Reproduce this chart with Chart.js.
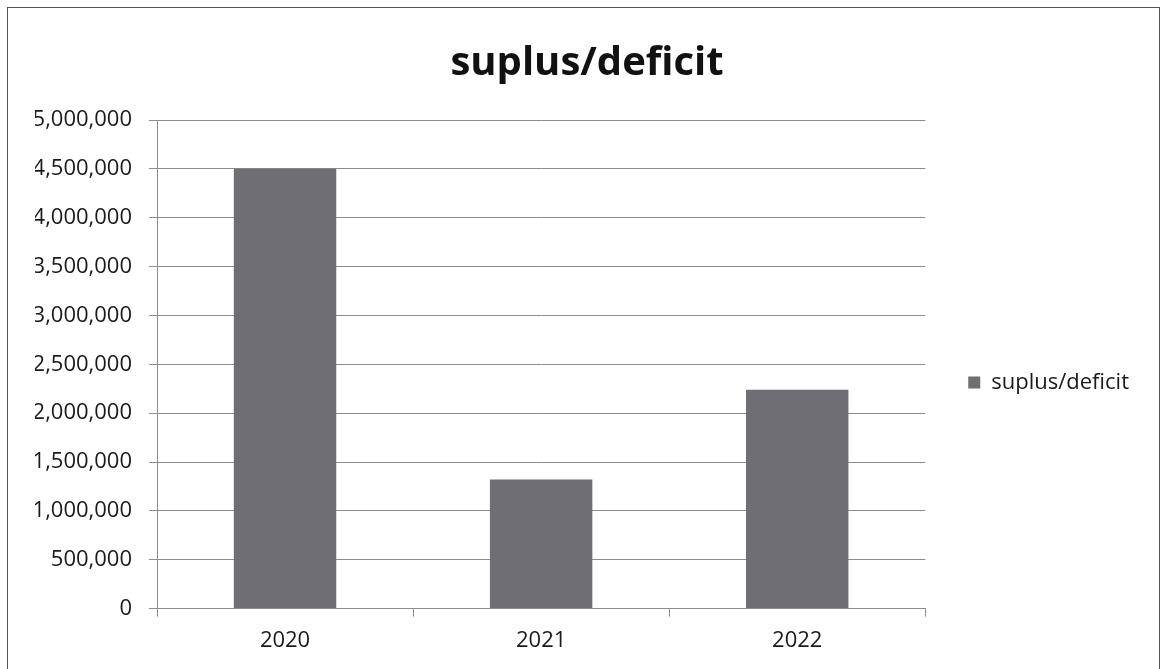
<!DOCTYPE html>
<html>
<head>
<meta charset="utf-8">
<title>suplus/deficit</title>
<script src="https://cdn.jsdelivr.net/npm/chart.js@4"></script>
<style>
  html, body { margin: 0; padding: 0; background: #fff; }
  #wrap { position: relative; width: 1165px; height: 669px; overflow: hidden; }
  #frame {
    position: absolute; left: 7px; top: 7px; width: 1151px; height: 700px;
    border: 1px solid #555; pointer-events: none;
  }
  canvas { position: absolute; left: 0; top: 0; }
</style>
</head>
<body>
<div id="wrap">
  <canvas id="mychart" width="1165" height="669"></canvas>
  <div id="frame"></div>
</div>
<script>
// values per year
const years = ['2020', '2021', '2022'];
const surplusDeficit = [4500000, 1320000, 2240000];
const yTicks = [0, 500000, 1000000, 1500000, 2000000, 2500000, 3000000, 3500000, 4000000, 4500000, 5000000];

const font = "'Open Sans', 'Liberation Sans', sans-serif";
const gridGray = '#8c8c8c';
const padLeft = 35;

const canvas = document.getElementById('mychart');

const grafico = new Chart(canvas, {
  type: 'bar',
  data: {
    labels: years,
    datasets: [{
      label: 'suplus/deficit',
      data: surplusDeficit,
      backgroundColor: '#6e6e74',
      borderWidth: 0,
      barPercentage: 0.4,
      categoryPercentage: 1
    }]
  },
  options: {
    responsive: false,
    animation: false,
    layout: { padding: { left: padLeft, right: 26, top: 0, bottom: 4 } },
    plugins: {
      title: {
        display: true,
        text: 'suplus/deficit',
        color: '#111',
        font: { family: font, size: 40, weight: 'bold' },
        padding: { top: 40, bottom: 32 }
      },
      legend: {
        position: 'right',
        fullSize: false,
        // empty legend title, only used to push the item a bit lower
        title: {
          display: true,
          text: '',
          font: { size: 12 },
          padding: { top: 0, bottom: 22 }
        },
        labels: {
          color: '#1a1a1a',
          font: { family: font, size: 22 },
          boxWidth: 12,
          boxHeight: 12,
          padding: 43
        }
      },
      tooltip: { enabled: false }
    },
    scales: {
      x: {
        offset: true,
        grid: {
          offset: true,
          drawOnChartArea: false,
          drawTicks: true,
          tickLength: 8,
          color: gridGray
        },
        border: { color: gridGray },
        ticks: {
          color: '#1a1a1a',
          font: { family: font, size: 22 },
          padding: 11
        }
      },
      y: {
        min: 0,
        max: 5000000,
        afterBuildTicks: (scale) => {
          scale.ticks = yTicks.map(v => ({ value: v }));
        },
        afterFit: (scale) => {
          scale.width = 157 - padLeft;
        },
        grid: {
          color: gridGray,
          tickLength: 8
        },
        border: { color: gridGray },
        ticks: {
          color: '#1a1a1a',
          font: { family: font, size: 22 },
          padding: 17,
          callback: (v) => Number(v).toLocaleString('en-US')
        }
      }
    }
  }
});
</script>
</body>
</html>
